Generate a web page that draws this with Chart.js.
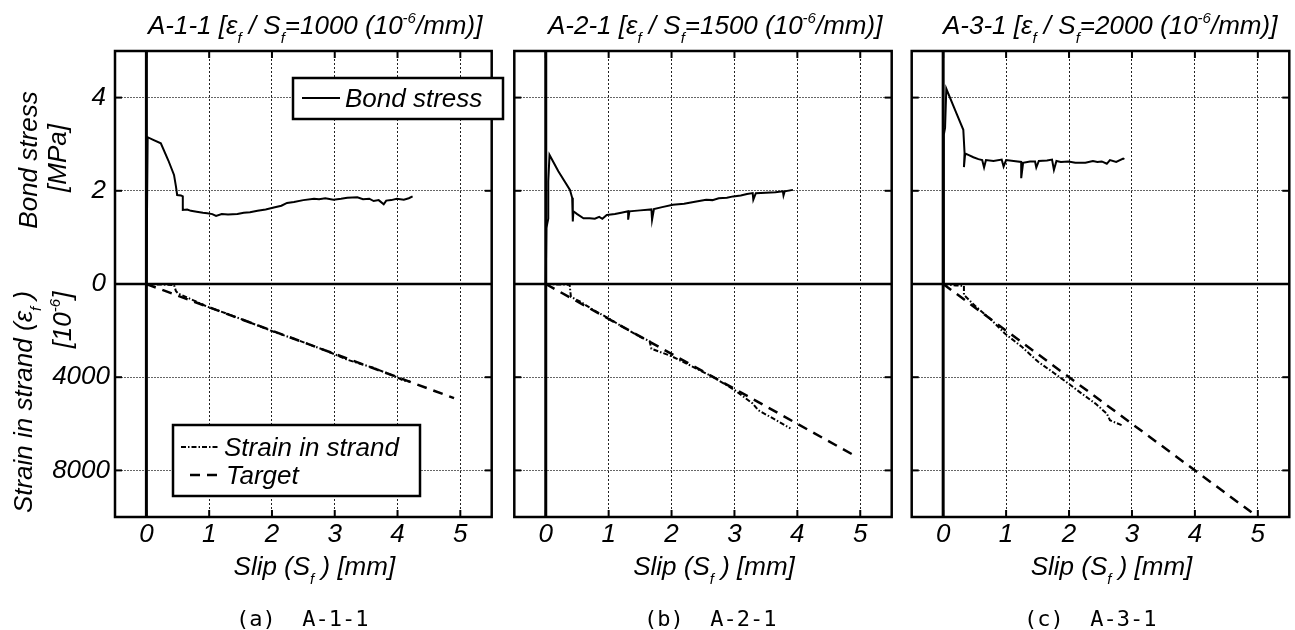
<!DOCTYPE html>
<html>
<head>
<meta charset="utf-8">
<script src="https://cdn.jsdelivr.net/npm/chart.js@4.4.1/dist/chart.umd.min.js"></script>
<style>
  html, body { margin: 0; padding: 0; background: #fff; }
  #wrap { position: relative; width: 1295px; height: 630px; overflow: hidden; }
  #wrap canvas { position: absolute; left: 0; top: 0; }
</style>
</head>
<body>
<div id="wrap">
  <canvas id="panelA" width="1295" height="630"></canvas>
  <canvas id="panelB" width="1295" height="630"></canvas>
  <canvas id="panelC" width="1295" height="630"></canvas>
</div>
<script>
// tick values
const slipTicks = [0, 1, 2, 3, 4, 5];
const stressTicks = [0, 2, 4];
const strainTicks = [0, 4000, 8000];

// A-1-1 bond stress (slip mm, MPa)
const slipBondA = [0, 0.02, 0.1, 0.23, 0.35, 0.44, 0.47, 0.49, 0.55, 0.58, 0.58, 0.65, 0.71, 0.8, 0.9, 0.97, 1.05, 1.11, 1.2, 1.3, 1.45, 1.55, 1.65, 1.77, 1.9, 2.03, 2.15, 2.24, 2.35, 2.5, 2.67, 2.75, 2.85, 2.98, 3.1, 3.2, 3.36, 3.45, 3.55, 3.62, 3.7, 3.78, 3.82, 3.9, 3.99, 4.1, 4.18, 4.24];
const bondA     = [0, 3.15, 3.1, 3.02, 2.65, 2.34, 2.1, 1.91, 1.9, 1.88, 1.59, 1.6, 1.57, 1.55, 1.53, 1.52, 1.5, 1.46, 1.5, 1.49, 1.5, 1.53, 1.54, 1.57, 1.6, 1.64, 1.68, 1.74, 1.76, 1.8, 1.83, 1.82, 1.84, 1.81, 1.83, 1.85, 1.86, 1.82, 1.83, 1.78, 1.8, 1.71, 1.79, 1.8, 1.83, 1.81, 1.84, 1.88];
// A-1-1 strain in strand (slip mm, 10^-6)
const slipStrainA = [0, 0.2, 0.44, 0.47, 0.5, 0.75, 0.97, 1.3, 1.6, 2.03, 2.4, 2.88, 3.2, 3.62, 3.99, 4.1, 4.2];
const strainA     = [0, 20, 40, 300, 400, 700, 975, 1290, 1600, 2050, 2400, 2880, 3250, 3600, 4000, 4150, 4180];

// A-2-1
const slipBondB = [0, 0.01, 0.04, 0.04, 0.06, 0.2, 0.385, 0.42, 0.43, 0.43, 0.44, 0.5, 0.6, 0.7, 0.78, 0.85, 0.9, 0.97, 1.1, 1.2, 1.31, 1.31, 1.33, 1.5, 1.68, 1.69, 1.72, 1.85, 2.02, 2.2, 2.35, 2.55, 2.65, 2.75, 2.88, 2.98, 3.1, 3.2, 3.29, 3.3, 3.34, 3.5, 3.65, 3.77, 3.78, 3.8, 3.93];
const bondB     = [0, 1.2, 1.4, 2.2, 2.77, 2.42, 2.02, 1.85, 1.6, 1.34, 1.56, 1.5, 1.41, 1.41, 1.4, 1.44, 1.4, 1.48, 1.5, 1.53, 1.56, 1.38, 1.56, 1.58, 1.6, 1.38, 1.61, 1.65, 1.7, 1.72, 1.76, 1.81, 1.8, 1.84, 1.85, 1.88, 1.9, 1.93, 1.95, 1.81, 1.95, 1.96, 1.97, 1.99, 1.9, 1.99, 2.02];
const slipStrainB = [0, 0.2, 0.38, 0.4, 0.55, 0.75, 1.0, 1.25, 1.5, 1.65, 1.68, 2.0, 2.3, 2.66, 3.0, 3.29, 3.38, 3.6, 3.89];
const strainB     = [0, 20, 30, 550, 760, 1100, 1480, 1880, 2270, 2450, 2780, 3100, 3500, 3990, 4550, 5130, 5420, 5750, 6200];

// A-3-1
const slipBondC = [0, 0.01, 0.03, 0.05, 0.2, 0.32, 0.34, 0.33, 0.35, 0.4, 0.48, 0.56, 0.62, 0.65, 0.68, 0.8, 0.93, 0.96, 1.0, 1.12, 1.24, 1.24, 1.27, 1.38, 1.46, 1.48, 1.52, 1.65, 1.73, 1.76, 1.8, 1.87, 1.99, 2.1, 2.26, 2.38, 2.45, 2.52, 2.6, 2.65, 2.75, 2.86, 2.88];
const bondC     = [0, 3.2, 3.35, 4.19, 3.7, 3.31, 2.81, 2.51, 2.8, 2.77, 2.72, 2.68, 2.66, 2.5, 2.66, 2.64, 2.67, 2.52, 2.66, 2.64, 2.62, 2.27, 2.6, 2.63, 2.63, 2.5, 2.64, 2.65, 2.67, 2.45, 2.64, 2.62, 2.63, 2.6, 2.6, 2.64, 2.62, 2.63, 2.58, 2.66, 2.62, 2.69, 2.68];
const slipStrainC = [0, 0.2, 0.33, 0.33, 0.51, 0.75, 0.98, 1.25, 1.51, 1.75, 1.99, 2.2, 2.42, 2.6, 2.65, 2.84];
const strainC     = [0, 60, 80, 470, 946, 1500, 2122, 2696, 3341, 3800, 4272, 4700, 5133, 5563, 5849, 6065];

// target lines (eps_f / S_f = 1000, 1500, 2000)
const slipTarget = [0, 4.9];
const targetA = [0, 4900];
const targetB = [0, 7350];
const targetC = [0, 9800];

Chart.defaults.font.family = '"Liberation Sans", Arial, sans-serif';
Chart.defaults.color = '#000';

const FONT = '"Liberation Sans", Arial, sans-serif';
const FS = 26;

function pts(xs, ys) {
  return xs.map((x, i) => ({ x: x, y: ys[i] }));
}

function partFont(p, size) {
  const s = (p.sub || p.sup) ? Math.round(size * 0.58) : size;
  return 'italic ' + s + 'px ' + FONT;
}

function drawRich(ctx, parts, x, y, size, align) {
  let w = 0;
  parts.forEach(p => { ctx.font = partFont(p, size); w += ctx.measureText(p.t).width; });
  let cx = align === 'center' ? x - w / 2 : (align === 'right' ? x - w : x);
  ctx.textAlign = 'left';
  ctx.textBaseline = 'alphabetic';
  parts.forEach(p => {
    ctx.font = partFont(p, size);
    const dy = p.sub ? size * 0.34 : (p.sup ? -size * 0.42 : 0);
    ctx.fillText(p.t, cx, y + dy);
    cx += ctx.measureText(p.t).width;
  });
}

function drawRotated(ctx, parts, x, y, size) {
  ctx.save();
  ctx.translate(x, y);
  ctx.rotate(-Math.PI / 2);
  drawRich(ctx, parts, 0, 0, size, 'center');
  ctx.restore();
}

function seg(ctx, x1, y1, x2, y2) {
  ctx.beginPath();
  ctx.moveTo(x1, y1);
  ctx.lineTo(x2, y2);
  ctx.stroke();
}

const decor = {
  id: 'decor',
  afterDatasetsDraw(chart, args, o) {
    const { ctx, chartArea: a, scales } = chart;
    ctx.save();
    ctx.strokeStyle = '#000';
    ctx.setLineDash([]);
    // zero lines
    const x0 = scales.x.getPixelForValue(0);
    const y0 = scales.yStress.getPixelForValue(0);
    ctx.lineWidth = 3;
    seg(ctx, x0, a.top, x0, a.bottom);
    ctx.lineWidth = 2.5;
    seg(ctx, a.left, y0, a.right, y0);
    // inward tick marks
    ctx.lineWidth = 2;
    slipTicks.forEach(v => {
      const px = scales.x.getPixelForValue(v);
      seg(ctx, px, a.top, px, a.top + 7);
      seg(ctx, px, a.bottom, px, a.bottom - 7);
    });
    stressTicks.forEach(v => {
      const py = scales.yStress.getPixelForValue(v);
      seg(ctx, a.left, py, a.left + 7, py);
      seg(ctx, a.right, py, a.right - 7, py);
    });
    strainTicks.forEach(v => {
      const py = scales.yStrain.getPixelForValue(v);
      seg(ctx, a.left, py, a.left + 7, py);
      seg(ctx, a.right, py, a.right - 7, py);
    });
    // frame
    ctx.lineWidth = 2.5;
    ctx.strokeRect(a.left, a.top, a.right - a.left, a.bottom - a.top);
    ctx.restore();
  },
  afterDraw(chart, args, o) {
    const { ctx, chartArea: a } = chart;
    ctx.save();
    ctx.fillStyle = '#000';
    const cx = (a.left + a.right) / 2;
    // panel title
    drawRich(ctx, o.title, o.titleX, 34, FS, 'left');
    // x axis title
    drawRich(ctx, [{ t: 'Slip (S' }, { t: 'f', sub: true }, { t: ' ) [mm]' }], cx + 11, 575, FS, 'center');
    // y axis titles
    if (o.yTitles) {
      drawRotated(ctx, [{ t: 'Bond stress' }], 37, 160, FS);
      drawRotated(ctx, [{ t: '[MPa]' }], 66, 158, FS);
      drawRotated(ctx, [{ t: 'Strain in strand (ε' }, { t: 'f', sub: true }, { t: ' )' }], 32, 402, FS);
      drawRotated(ctx, [{ t: '[10' }, { t: '-6', sup: true }, { t: ']' }], 71, 320, FS);
    }
    // legends
    (o.legends || []).forEach(lg => {
      ctx.fillStyle = '#fff';
      ctx.fillRect(lg.x, lg.y, lg.w, lg.h);
      ctx.strokeStyle = '#000';
      ctx.lineWidth = 2.5;
      ctx.setLineDash([]);
      ctx.strokeRect(lg.x, lg.y, lg.w, lg.h);
      lg.items.forEach(it => {
        const ds = chart.data.datasets[it.ds];
        ctx.strokeStyle = '#000';
        ctx.lineWidth = ds.borderWidth;
        ctx.setLineDash(ds.borderDash || []);
        seg(ctx, it.x1, it.y, it.x2, it.y);
        ctx.setLineDash([]);
        ctx.fillStyle = '#000';
        ctx.font = 'italic ' + FS + 'px ' + FONT;
        ctx.textAlign = 'left';
        ctx.textBaseline = 'alphabetic';
        ctx.fillText(ds.label, it.tx, it.y + 9);
      });
    });
    // caption
    ctx.fillStyle = '#000';
    ctx.font = '22px "DejaVu Sans Mono", monospace';
    ctx.textAlign = 'left';
    ctx.textBaseline = 'alphabetic';
    ctx.fillText(o.caption, o.captionX, 626);
    ctx.restore();
  }
};
Chart.register(decor);

const AXW = 100;   // width reserved for y tick labels
const AXH = 42;    // height reserved for x tick labels

function makeScales(showY) {
  const tickFont = { size: FS, style: 'italic' };
  return {
    x: {
      type: 'linear', min: -0.5, max: 5.5,
      afterBuildTicks: s => { s.ticks = slipTicks.map(v => ({ value: v })); },
      afterFit: s => { s.height = AXH; },
      ticks: { font: tickFont, color: '#000', padding: 2, autoSkip: false, maxRotation: 0, callback: v => String(v) },
      grid: { color: '#222', lineWidth: 1, drawTicks: false },
      border: { display: false, dash: [2, 2] }
    },
    yStress: {
      type: 'linear', position: 'left', stack: 'panel', stackWeight: 1, weight: 1,
      min: 0, max: 5,
      afterBuildTicks: s => { s.ticks = stressTicks.map(v => ({ value: v })); },
      afterFit: s => { s.width = AXW; },
      ticks: { display: showY, font: tickFont, color: '#000', padding: 9, autoSkip: false, callback: v => String(v) },
      grid: { color: '#666', lineWidth: 1, drawTicks: false },
      border: { display: false, dash: [2, 1] }
    },
    yStrain: {
      type: 'linear', position: 'left', stack: 'panel', stackWeight: 1, weight: 0,
      min: 0, max: 10000, reverse: true,
      afterBuildTicks: s => { s.ticks = strainTicks.map(v => ({ value: v })); },
      afterFit: s => { s.width = AXW; },
      ticks: { display: showY, font: tickFont, color: '#000', padding: 5, autoSkip: false, callback: v => v === 0 ? '' : String(v) },
      grid: { color: '#666', lineWidth: 1, drawTicks: false },
      border: { display: false, dash: [2, 1] }
    }
  };
}

function makePanel(id, left, right, bond, strain, target, deco, showY) {
  const cfg = {
    type: 'scatter',
    data: {
      datasets: [
        { label: 'Bond stress', data: bond, yAxisID: 'yStress', showLine: true,
          borderColor: '#000', borderWidth: 2, pointRadius: 0, tension: 0 },
        { label: 'Strain in strand', data: strain, yAxisID: 'yStrain', showLine: true,
          borderColor: '#000', borderWidth: 2, borderDash: [5, 2, 1.5, 2], pointRadius: 0, tension: 0 },
        { label: 'Target', data: target, yAxisID: 'yStrain', showLine: true,
          borderColor: '#000', borderWidth: 2.5, borderDash: [10, 7], pointRadius: 0, tension: 0 }
      ]
    },
    options: {
      responsive: false,
      animation: false,
      devicePixelRatio: 1,
      events: [],
      layout: { padding: { left: left - AXW, right: 1295 - right, top: 51, bottom: 630 - 517 - AXH } },
      plugins: {
        legend: { display: false },
        tooltip: { enabled: false },
        decor: deco
      },
      scales: makeScales(showY)
    }
  };
  return new Chart(document.getElementById(id), cfg);
}

function titleParts(name, rate) {
  return [{ t: name + ' [ε' }, { t: 'f', sub: true }, { t: ' / S' }, { t: 'f', sub: true },
          { t: '=' + rate + ' (10' }, { t: '-6', sup: true }, { t: '/mm)]' }];
}

makePanel('panelA', 115, 491.7, pts(slipBondA, bondA), pts(slipStrainA, strainA), pts(slipTarget, targetA), {
  title: titleParts('A-1-1', 1000), titleX: 148,
  yTitles: true,
  caption: '(a)  A-1-1', captionX: 236,
  legends: [
    { x: 293, y: 78, w: 210, h: 41, items: [{ ds: 0, x1: 302, x2: 340, y: 98, tx: 345 }] },
    { x: 173, y: 425, w: 247, h: 71, items: [
      { ds: 1, x1: 181, x2: 218, y: 447, tx: 224 },
      { ds: 2, x1: 190, x2: 217, y: 475, tx: 226 }
    ] }
  ]
}, true);

makePanel('panelB', 514.3, 891.7, pts(slipBondB, bondB), pts(slipStrainB, strainB), pts(slipTarget, targetB), {
  title: titleParts('A-2-1', 1500), titleX: 548,
  yTitles: false,
  caption: '(b)  A-2-1', captionX: 644
}, false);

makePanel('panelC', 911.7, 1289.3, pts(slipBondC, bondC), pts(slipStrainC, strainC), pts(slipTarget, targetC), {
  title: titleParts('A-3-1', 2000), titleX: 943,
  yTitles: false,
  caption: '(c)  A-3-1', captionX: 1024
}, false);
</script>
</body>
</html>
